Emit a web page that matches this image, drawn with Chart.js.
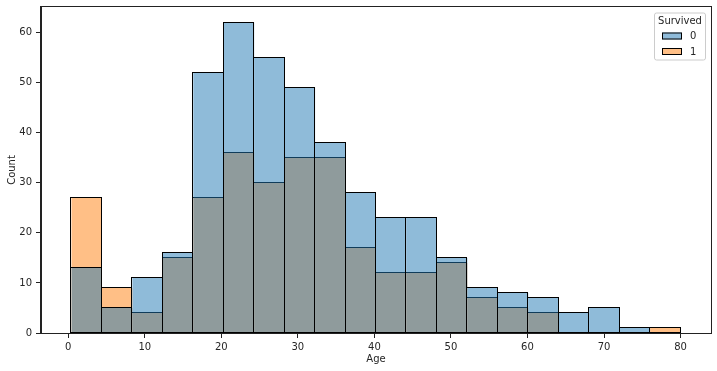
<!DOCTYPE html>
<html>
<head>
<meta charset="utf-8">
<script src="https://cdn.jsdelivr.net/npm/chart.js@4/dist/chart.umd.min.js"></script>
<style>
  html, body { margin: 0; padding: 0; background: #fff; }
  #wrap { width: 717px; height: 371px; }
</style>
</head>
<body>
<div id="wrap"><canvas id="chart"></canvas></div>
<script>
// Age histogram split by Survived (seaborn-style layered bars)
const binEdges = [0.42, 4.399, 8.378, 12.357, 16.336, 20.315, 24.294, 28.273, 32.252, 36.231,
  40.21, 44.189, 48.168, 52.147, 56.126, 60.105, 64.084, 68.063, 72.042, 76.021, 80.0]
const survived0 = [13, 5, 11, 16, 52, 62, 55, 49, 38, 28, 23, 23, 15, 9, 8, 7, 4, 5, 1, 0]
const survived1 = [27, 9, 4, 15, 27, 36, 30, 35, 35, 17, 12, 12, 14, 7, 5, 4, 0, 0, 0, 1]
const seriesLabels = ["0", "1"]
const xTicks = [0, 10, 20, 30, 40, 50, 60, 70, 80]
const yTicks = [0, 10, 20, 30, 40, 50, 60]

const FONT = { family: "'DejaVu Sans', sans-serif", size: 10 }
const TEXT = "#262626"
const BLUE = "rgba(31,119,180,0.5)"
const ORANGE = "rgba(255,127,14,0.5)"

// bars sit at bin centres; empty bins are left out
const toPoints = (counts) => counts.map((c, i) => ({
  x: (binEdges[i] + binEdges[i + 1]) / 2,
  y: c === 0 ? null : c
}))

const span = binEdges[binEdges.length - 1] - binEdges[0]
const xMin = binEdges[0] - span * 0.05
const xMax = binEdges[binEdges.length - 1] + span * 0.05
const yMax = Math.max(...survived0, ...survived1) * 1.05

// black 1px edges like matplotlib patches, stroked right after each dataset
// so the upper layer's translucent fill tints the lower layer's edges
const edgePlugin = {
  id: "barEdges",
  afterDatasetDraw(chart, args) {
    const { ctx } = chart
    ctx.save()
    ctx.strokeStyle = "#000"
    ctx.lineWidth = 1
    args.meta.data.forEach((bar) => {
      const { x, y, base, width } = bar.getProps(["x", "y", "base", "width"], true)
      if (!Number.isFinite(y) || !Number.isFinite(x)) return
      const l = Math.round(x - width / 2) - 0.5
      const r = Math.round(x + width / 2) - 0.5
      const t = Math.round(y) - 0.5
      const b = Math.round(base) - 0.5
      ctx.strokeRect(l, t, r - l, b - t)
    })
    ctx.restore()
  }
}

// matplotlib-like full frame around the axes
const framePlugin = {
  id: "frame",
  afterDatasetsDraw(chart) {
    const { ctx, chartArea: a } = chart
    ctx.save()
    ctx.strokeStyle = "#222"
    ctx.lineWidth = 1
    ctx.strokeRect(Math.round(a.left) - 0.5, Math.round(a.top) - 0.5,
      Math.round(a.right) - Math.round(a.left) + 1, Math.round(a.bottom) - Math.round(a.top) + 1)
    ctx.restore()
  }
}

// legend box inside the upper right corner, with title
const legendPlugin = {
  id: "innerLegend",
  afterDraw(chart) {
    const { ctx, chartArea: a } = chart
    const right = a.right - 6
    const left = right - 51
    const top = a.top + 5.5
    ctx.save()
    ctx.fillStyle = "rgba(255,255,255,0.8)"
    ctx.strokeStyle = "#ccc"
    ctx.lineWidth = 1
    ctx.beginPath()
    ctx.roundRect(left + 0.5, top + 0.5, right - left, 47, 2)
    ctx.fill()
    ctx.stroke()

    ctx.font = `${FONT.size}px ${FONT.family}`
    ctx.fillStyle = TEXT
    ctx.textAlign = "center"
    ctx.textBaseline = "middle"
    ctx.fillText("Survived", (left + right) / 2 + 0.5, top + 8.5)

    chart.data.datasets.forEach((ds, i) => {
      const y = top + 20 + i * 15.5
      ctx.fillStyle = "#fff"
      ctx.fillRect(left + 8, y, 20, 7)
      ctx.fillStyle = ds.backgroundColor
      ctx.fillRect(left + 8, y, 20, 7)
      ctx.strokeStyle = "#000"
      ctx.strokeRect(left + 8.5, y + 0.5, 19, 6)
      ctx.fillStyle = TEXT
      ctx.textAlign = "left"
      ctx.fillText(ds.label, left + 36, y + 4)
    })
    ctx.restore()
  }
}

const barStyle = {
  borderWidth: 0,
  inflateAmount: 0,
  grouped: false,
  barPercentage: 1,
  categoryPercentage: 1
}

new Chart(document.getElementById("chart"), {
  type: "bar",
  data: {
    datasets: [
      { label: seriesLabels[0], data: toPoints(survived0), backgroundColor: BLUE, ...barStyle },
      { label: seriesLabels[1], data: toPoints(survived1), backgroundColor: ORANGE, ...barStyle }
    ]
  },
  options: {
    responsive: true,
    maintainAspectRatio: false,
    animation: false,
    layout: { padding: { top: 7, right: 6, left: 0, bottom: 0 } },
    plugins: { legend: { display: false }, tooltip: { enabled: false } },
    scales: {
      x: {
        type: "linear",
        min: xMin,
        max: xMax,
        offset: false,
        afterBuildTicks: (s) => { s.ticks = xTicks.map((v) => ({ value: v })) },
        afterFit: (s) => { s.height = 38; s.paddingLeft = 0; s.paddingRight = 0 },
        grid: { display: true, offset: false, drawOnChartArea: false, tickLength: 5, color: "#222" },
        border: { display: true, color: "#222" },
        ticks: { font: FONT, color: TEXT, padding: 3, maxRotation: 0 },
        title: { display: true, text: "Age", font: FONT, color: TEXT, padding: { top: 0, bottom: 6 } }
      },
      y: {
        min: 0,
        max: yMax,
        afterBuildTicks: (s) => { s.ticks = yTicks.map((v) => ({ value: v })) },
        afterFit: (s) => { s.width = 41; s.paddingTop = 0; s.paddingBottom = 0 },
        grid: { display: true, drawOnChartArea: false, tickLength: 5, color: "#222" },
        border: { display: true, color: "#222" },
        ticks: { font: FONT, color: TEXT, padding: 4 },
        title: { display: true, text: "Count", font: FONT, color: TEXT, padding: { top: 6, bottom: 0 } }
      }
    }
  },
  plugins: [edgePlugin, framePlugin, legendPlugin]
})
</script>
</body>
</html>
